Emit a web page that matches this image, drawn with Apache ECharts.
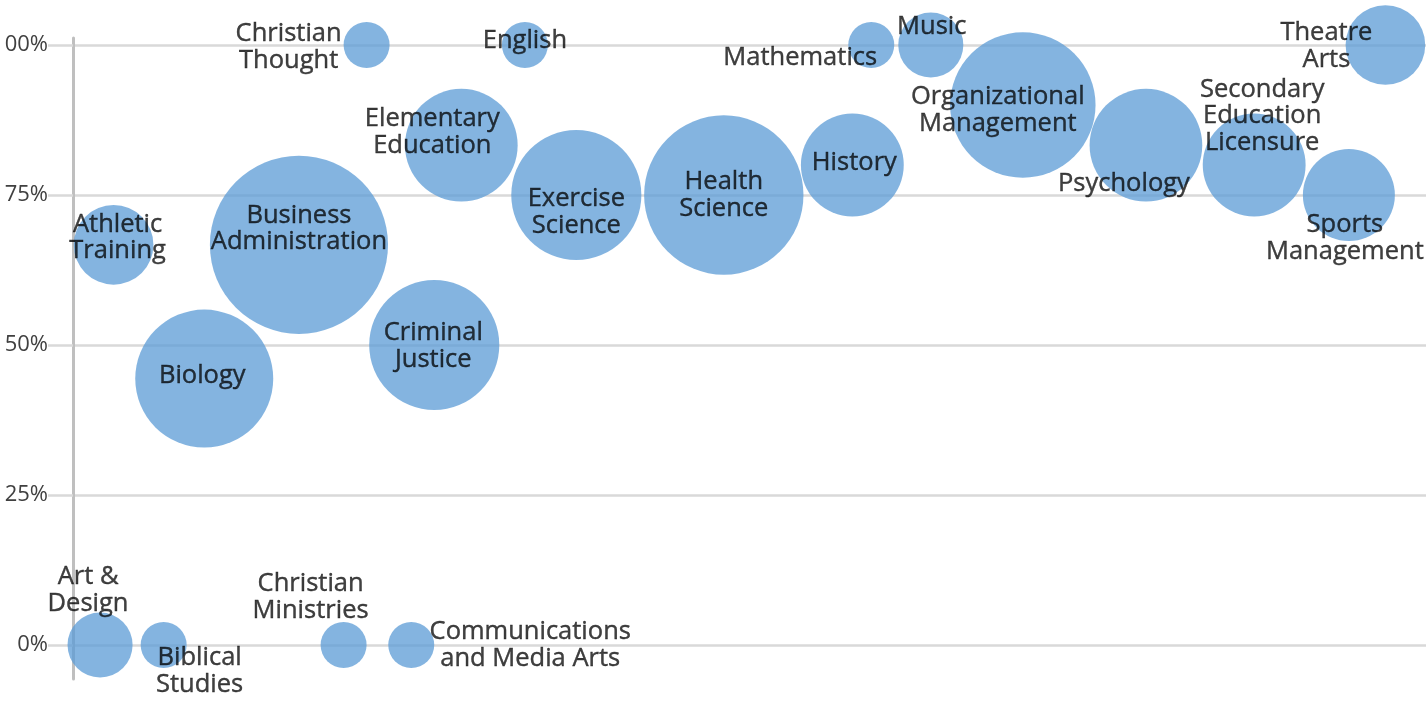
<!DOCTYPE html>
<html>
<head>
<meta charset="utf-8">
<title>Majors bubble chart</title>
<script src="https://cdn.jsdelivr.net/npm/echarts@6/dist/echarts.min.js"></script>
<style>
  html, body { margin: 0; padding: 0; background: #fff; }
  #chart { width: 1426px; height: 701px; }
</style>
</head>
<body>
<div id="chart"></div>
<script>
// majors (label text, line breaks as shown)
const majors = [
  'Art &\nDesign', 'Athletic\nTraining', 'Biblical\nStudies', 'Biology',
  'Business\nAdministration', 'Christian\nMinistries', 'Christian\nThought',
  'Communications\nand Media Arts', 'Criminal\nJustice', 'Elementary\nEducation',
  'English', 'Exercise\nScience', 'Health\nScience', 'History', 'Mathematics',
  'Music', 'Organizational\nManagement', 'Psychology',
  'Secondary\nEducation\nLicensure', 'Sports\nManagement', 'Theatre\nArts'
]
// horizontal measure (axis hidden in the picture)
const xValues = [2.0, 3.0, 6.7, 9.7, 16.7, 20.0, 21.7, 25.0, 26.7, 28.7, 33.4,
  37.2, 48.1, 57.6, 59.0, 63.4, 70.2, 79.3, 87.3, 94.3, 97.0]
// percentage on the y axis
const rates = [0, 66.7, 0, 44.4, 66.7, 0, 100, 0, 50, 83.3, 100, 75, 75, 80,
  100, 100, 90, 83.3, 80, 75, 100]
// bubble size (count)
const counts = [2, 3, 1, 9, 15, 1, 1, 1, 8, 6, 1, 8, 12, 5, 1, 2, 10, 6, 5, 4, 3]
const yTicks = [0, 25, 50, 75, 100]

// where each label sits relative to its bubble centre
const labelOffsets = {
  'Art &\nDesign': [-12, -55],
  'Athletic\nTraining': [4, -7],
  'Biblical\nStudies': [36, 26],
  'Biology': [-2, -3],
  'Business\nAdministration': [0, -16],
  'Christian\nMinistries': [-33, -48],
  'Christian\nThought': [-78, 2],
  'Communications\nand Media Arts': [119, 0],
  'Criminal\nJustice': [-1, 1],
  'Elementary\nEducation': [-29, -13],
  'English': [0, -4],
  'Exercise\nScience': [0, 17],
  'Health\nScience': [0, 0],
  'History': [2, -2],
  'Mathematics': [-71, 13],
  'Music': [1, -18],
  'Organizational\nManagement': [-25, 5],
  'Psychology': [-22, 39],
  'Secondary\nEducation\nLicensure': [8, -49],
  'Sports\nManagement': [-4, 43],
  'Theatre\nArts': [-59, 1]
}

const chart = echarts.init(document.getElementById('chart'))

const points = majors.map((name, i) => ({
  name: name,
  value: [xValues[i], rates[i], counts[i]],
  label: { offset: labelOffsets[name] || [0, 0] }
}))

const option = {
  animation: false,
  grid: [
    { left: 73, right: 0, top: 45, bottom: 56, containLabel: false, outerBoundsMode: 'none' },
    { left: 73, right: 0, top: 38, bottom: 22, containLabel: false, outerBoundsMode: 'none' }
  ],
  xAxis: [
    { type: 'value', gridIndex: 0, min: 0, max: 100, show: false },
    { type: 'value', gridIndex: 1, min: 0, max: 100, show: false }
  ],
  yAxis: [
    {
      type: 'value',
      gridIndex: 0,
      min: yTicks[0],
      max: yTicks[yTicks.length - 1],
      interval: 25,
      axisLine: { show: false },
      axisTick: {
        show: true,
        length: 25,
        lineStyle: { color: '#d9d9d9', width: 2.5 }
      },
      splitLine: {
        show: true,
        lineStyle: { color: '#d9d9d9', width: 2.5 }
      },
      axisLabel: {
        margin: 25,
        color: '#404040',
        fontFamily: 'Open Sans',
        fontSize: 22,
        formatter: (v) => v + '%'
      }
    },
    {
      // just the long vertical axis line
      type: 'value',
      gridIndex: 1,
      min: 0,
      max: 1,
      axisLine: { show: true, onZero: false, lineStyle: { color: '#bfbfbf', width: 3 } },
      axisTick: { show: false },
      axisLabel: { show: false },
      splitLine: { show: false }
    }
  ],
  series: [
    {
      type: 'scatter',
      xAxisIndex: 0,
      yAxisIndex: 0,
      clip: false,
      data: points,
      symbolSize: (val) => 46 * Math.sqrt(val[2]),
      itemStyle: {
        color: '#5b9bd5',
        opacity: 0.75
      },
      label: {
        show: true,
        position: 'inside',
        formatter: (p) => p.name,
        color: '#000',
        textBorderColor: '#000',
        textBorderWidth: 0.4,
        fontFamily: 'Open Sans',
        fontSize: 25.5,
        lineHeight: 26.5,
        align: 'center',
        verticalAlign: 'middle'
      },
      emphasis: { disabled: true }
    }
  ]
}

chart.setOption(option)
</script>
</body>
</html>
